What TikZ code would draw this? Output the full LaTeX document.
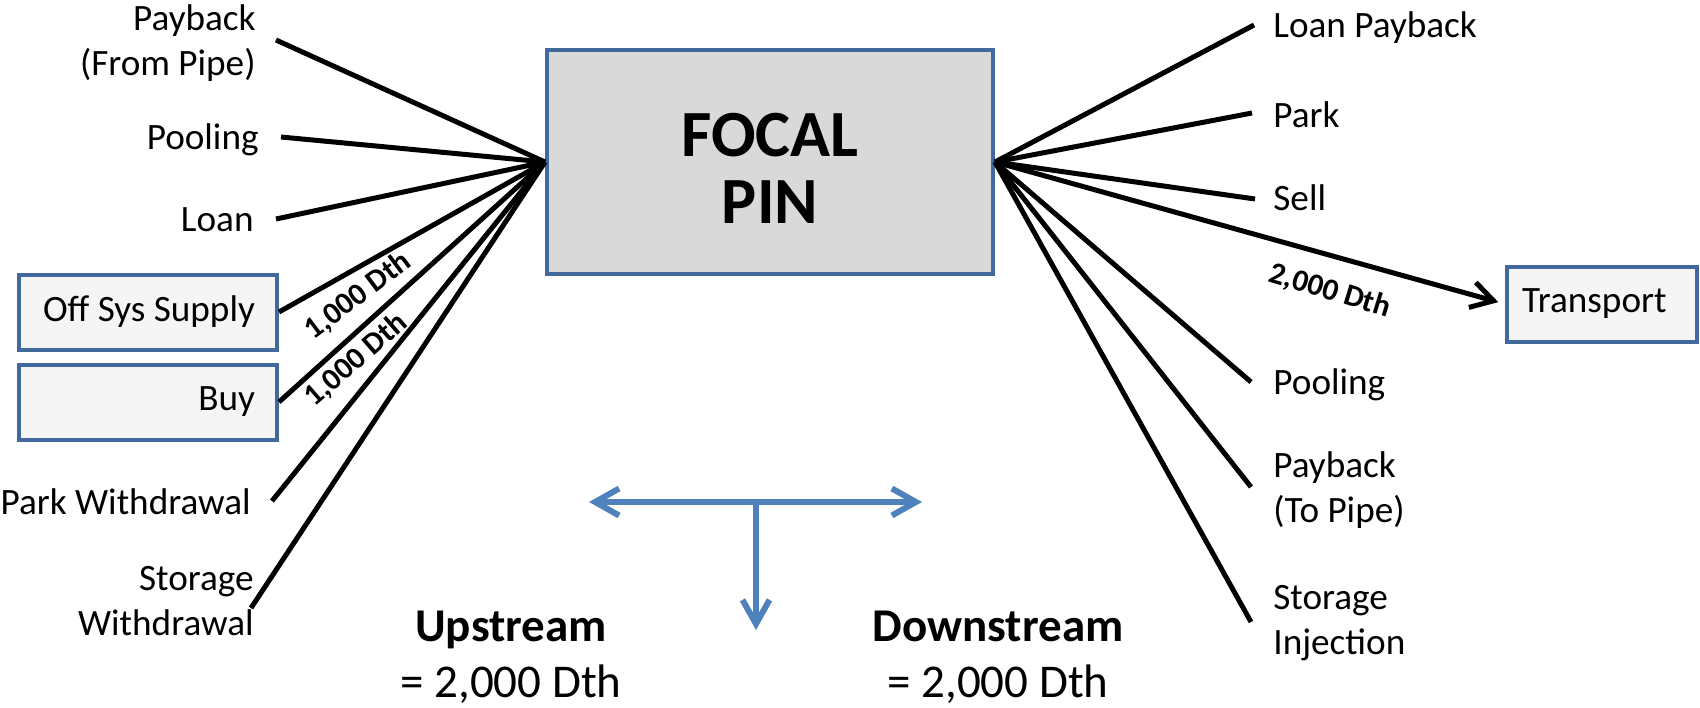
\documentclass[tikz,border=0pt]{standalone}
\usepackage{fontspec}
\setmainfont{Carlito}
\usetikzlibrary{arrows.meta}

\definecolor{pinblue}{RGB}{65,105,155}
\definecolor{pingray}{RGB}{217,217,217}
\definecolor{boxfill}{RGB}{245,245,245}
\definecolor{flowblue}{RGB}{79,129,189}

\begin{document}
\begin{tikzpicture}[x=0.5pt, y=-0.5pt,
  feed/.style={line width=2.5pt, black},
  txt/.style={inner sep=0pt, font=\fontsize{18.6}{22.5}\selectfont},
  leftlbl/.style={txt, anchor=east, align=flush right},
  rightlbl/.style={txt, anchor=west, align=flush left},
  pinbox/.style={draw=pinblue, line width=2pt, fill=boxfill, minimum height=37.5pt, font=\fontsize{18.6}{22.5}\selectfont},
  dth/.style={inner sep=0pt, font=\bfseries\fontsize{15.5}{18}\selectfont},
  flow/.style={line width=3pt, flowblue, -{Straight Barb[length=12pt, width=13.5pt]}},
  total/.style={align=center, inner sep=0pt, font=\fontsize{23.5}{28}\selectfont}]

\useasboundingbox (0,0) rectangle (1700,707);

% focal pin
\node[draw=pinblue, line width=2pt, fill=pingray, minimum width=223pt, minimum height=112pt,
      align=center, font=\bfseries\fontsize{33}{33.5}\selectfont] (focal) at (770,162) {\rule{0pt}{28pt}FOCAL\\PIN};

% upstream side
\node[leftlbl] (pbfrom) at (256,43) {Payback\\(From Pipe)};
\node[leftlbl] (poolin) at (259,140) {Pooling};
\node[leftlbl] (loan) at (254,220) {Loan};
\node[pinbox, inner xsep=11pt, text width=107pt, align=flush right] (offsys) at (148,312) {Off Sys Supply};
\node[pinbox, inner xsep=11pt, text width=107pt, align=flush right] (buy) at (148,402) {Buy};
\node[leftlbl] (parkw) at (251,502) {Park Withdrawal};
\node[leftlbl] (storw) at (254,601) {Storage\\Withdrawal};

\coordinate (pbfromE) at (276,40);
\coordinate (poolinE) at (281,137);
\coordinate (loanE) at (276,219);
\coordinate (parkwE) at (272,501);
\coordinate (storwE) at (251,608);

\foreach \e in {pbfromE,poolinE,loanE,offsys.east,buy.east,parkwE,storwE}
    \draw[feed] (\e) -- (focal.west);

\node[dth, rotate=37] (dthoff) at (358,296) {1,000 Dth};
\node[dth, rotate=41] (dthbuy) at (356,360) {1,000 Dth};

% downstream side
\node[rightlbl] (loanpb) at (1273,28) {Loan Payback};
\node[rightlbl] (park) at (1273,115) {Park};
\node[rightlbl] (sell) at (1273,198) {Sell};
\node[rightlbl] (poolout) at (1273,385) {Pooling};
\node[rightlbl] (pbto) at (1273,490) {Payback\\(To Pipe)};
\node[rightlbl] (stori) at (1273,623) {Storage\\Injection};
\node[pinbox, inner xsep=7.5pt, text width=80pt, align=flush left] (trans) at (1602,304) {Transport};

\coordinate (loanpbW) at (1254,25);
\coordinate (parkW) at (1252,113);
\coordinate (sellW) at (1255,199);
\coordinate (pooloutW) at (1251,382);
\coordinate (pbtoW) at (1251,487);
\coordinate (storiW) at (1251,622);

\foreach \e in {loanpbW,parkW,sellW,pooloutW,pbtoW,storiW}
    \draw[feed] (focal.east) -- (\e);

\draw[feed, -{Straight Barb[length=11pt, width=13pt]}, shorten >=3.5pt] (focal.east) -- (trans.west);
\node[dth, rotate=-17] (dthout) at (1330,291) {2,000 Dth};

% balance arrows
\coordinate (tmid) at (756,502);
\coordinate (tleft) at (589,502);
\coordinate (tright) at (922,502);
\coordinate (tdown) at (756,630);
\draw[flow] (tmid) -- (tleft);
\draw[flow] (tmid) -- (tright);
\draw[flow] (tmid) -- (tdown);

% totals
\node[total] (up) at (511,657) {\textbf{Upstream}\\= 2,000 Dth};
\node[total] (down) at (998,657) {\textbf{Downstream}\\= 2,000 Dth};

\end{tikzpicture}
\end{document}
